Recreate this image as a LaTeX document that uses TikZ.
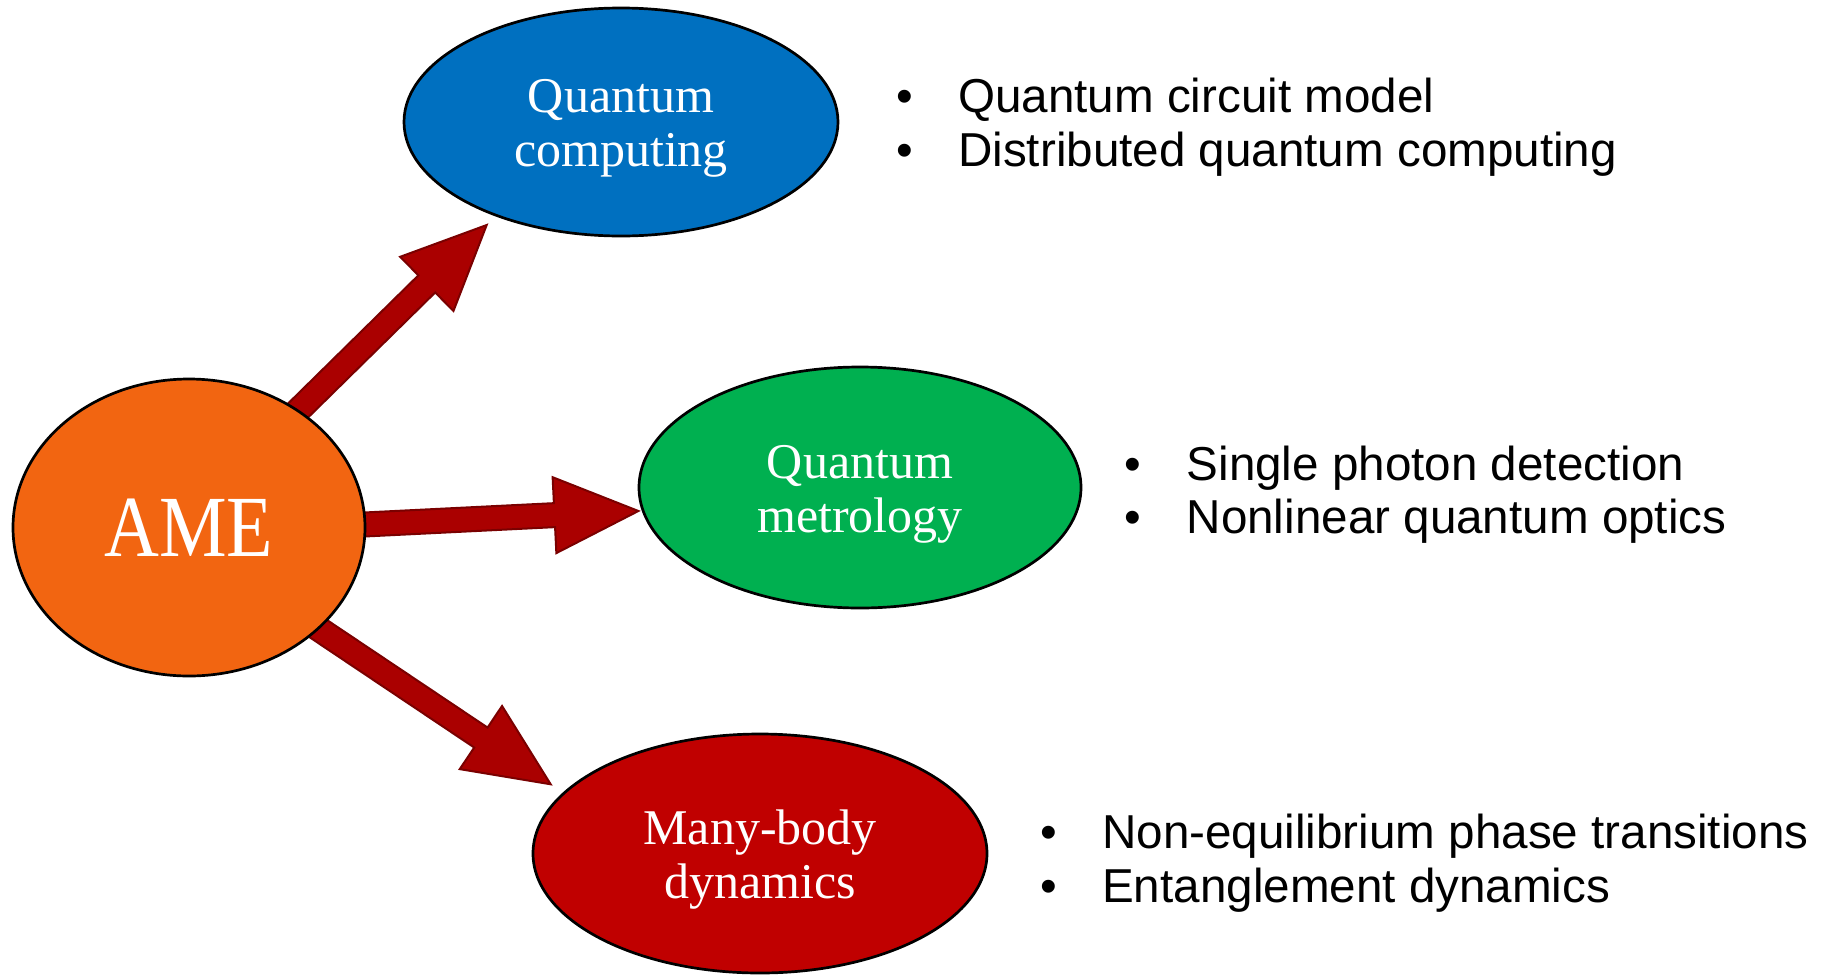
\documentclass[tikz,border=0pt]{standalone}
\usepackage{fontspec}
\setmainfont{Liberation Serif}
\newfontfamily\sansf{Liberation Sans}
\usetikzlibrary{shapes.geometric,calc}
\pgfdeclarelayer{background}
\pgfsetlayers{background,main}
\definecolor{qcblue}{HTML}{0070C0}
\definecolor{qmgreen}{HTML}{00B050}
\definecolor{mbred}{HTML}{C00000}
\definecolor{ameorange}{HTML}{F26511}
\definecolor{arrowred}{HTML}{AA0000}
\definecolor{arrowdark}{HTML}{7A0000}
\newcommand\blockarr[2]{%
  \path[blockarrow] let \p1=(#1), \p2=(#2),
    \n1={atan2(\y2-\y1,\x2-\x1)},
    \n2={veclen(\x2-\x1,\y2-\y1)-84}
  in ($(\p1)+(\n1+90:12pt)$)
  -- ($(\p1)+(\n1:\n2*1pt)+(\n1+90:12pt)$)
  -- ($(\p1)+(\n1:\n2*1pt)+(\n1+90:38pt)$)
  -- (\p2)
  -- ($(\p1)+(\n1:\n2*1pt)+(\n1-90:38pt)$)
  -- ($(\p1)+(\n1:\n2*1pt)+(\n1-90:12pt)$)
  -- ($(\p1)+(\n1-90:12pt)$)
  -- cycle;}
\begin{document}
\begin{tikzpicture}[x=1pt,y=-1pt,
  ell/.style={ellipse, draw=black, line width=2.7pt, inner sep=0pt, text=white,
    font=\fontsize{50}{54}\selectfont, align=center},
  blockarrow/.style={fill=arrowred, draw=arrowdark, line width=2pt, line join=miter},
  bul/.style={anchor=base west, inner sep=0pt, text=black,
    font=\sansf\fontsize{47.6}{54}\selectfont}]
\useasboundingbox (0,0) rectangle (1829,975);
% ellipses
\node[ell, fill=ameorange, minimum width=352, minimum height=297,
  font=\fontsize{80}{90}\selectfont] (ame) at (189,527.5) {\scalebox{0.95}[1.09]{AME}};
\node[ell, fill=qcblue, minimum width=434, minimum height=228] (qc) at (621,122)
  {\rule{0pt}{46pt}Quantum\\computing};
\node[ell, fill=qmgreen, minimum width=442, minimum height=241] (qm) at (860,487.5)
  {\rule{0pt}{46pt}Quantum\\metrology};
\node[ell, fill=mbred, minimum width=454, minimum height=239] (mb) at (760,853.5)
  {\rule{0pt}{46pt}Many-body\\dynamics};
% arrow tips
\coordinate (tip1) at (486.7,225);
\coordinate (tip2) at (638.4,511);
\coordinate (tip3) at (550.7,784.3);
\begin{pgfonlayer}{background}
\blockarr{$(ame.47)!-50pt!(tip1)$}{tip1}
\blockarr{$(ame.1)!-50pt!(tip2)$}{tip2}
\blockarr{$(ame.-38)!-50pt!(tip3)$}{tip3}
\end{pgfonlayer}
% bullet lists
\node[bul] (b1) at (896,112) {\makebox[62pt][l]{•}Quantum circuit model};
\node[bul] (b2) at (896,166) {\makebox[62pt][l]{•}Distributed quantum computing};
\node[bul] (b3) at (1124.5,480) {\makebox[62pt][l]{•}Single photon detection};
\node[bul] (b4) at (1124.5,533) {\makebox[62pt][l]{•}Nonlinear quantum optics};
\node[bul] (b5) at (1040,848) {\makebox[62pt][l]{•}Non-equilibrium phase transitions};
\node[bul] (b6) at (1040,902) {\makebox[62pt][l]{•}Entanglement dynamics};
\end{tikzpicture}
\end{document}
